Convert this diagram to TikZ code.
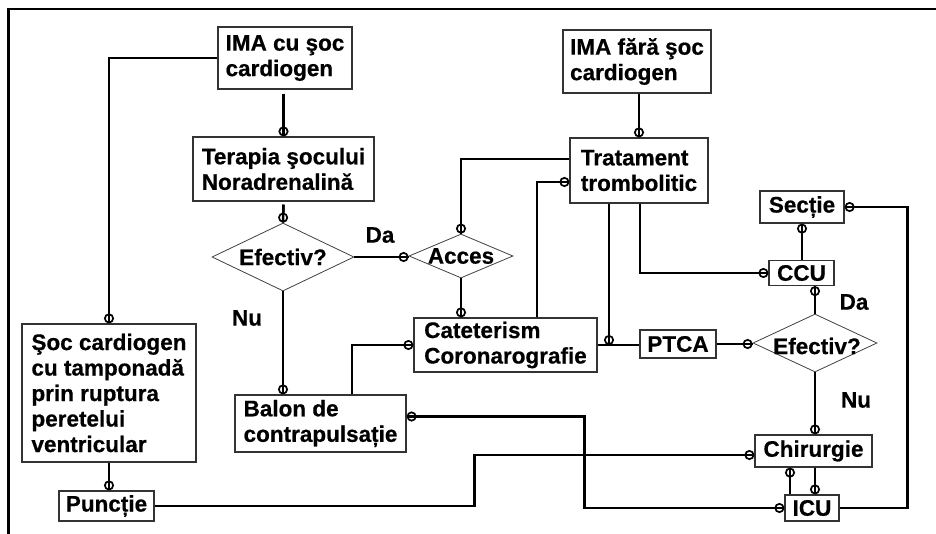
\documentclass[tikz,border=0pt]{standalone}
\usepackage{fontspec}
\setmainfont{Liberation Sans}[BoldFeatures={FakeBold=0.6}]
\usetikzlibrary{arrows.meta,shapes.geometric}

% a connector drawn in full, then again with its ring end(s) on top
\newcommand\wireup[3][conn]{\draw[#1] #3; \draw[#1,#2] #3;}

\begin{document}
\begin{tikzpicture}[x=1pt,y=-1pt,
  oring/.tip={Circle[open,length=10pt,width=10pt,line width=1.7pt]},
  txt/.style={font=\bfseries\fontsize{22.5}{25.5}\selectfont},
  box/.style={txt,draw=black!80,line width=1.2pt,rectangle,inner sep=2pt,align=left},
  dia/.style={draw=black!75,line width=0.8pt,diamond,inner sep=0pt},
  lbl/.style={txt,inner sep=0pt},
  conn/.style={line width=2.5pt,black},
  thinconn/.style={line width=1.2pt,black}]

\useasboundingbox (0,0) rectangle (936,533);
\clip (0,0) rectangle (936,533);

% outer frame, running off the right and bottom edges
\draw[line width=2.7pt] (8.7,560) -- (8.7,9) -- (960,9);

% boxes
\node[box,minimum width=134pt,minimum height=62pt] (ima1) at (285,58) {IMA cu şoc\\cardiogen};
\node[box,minimum width=181pt,minimum height=64pt] (terapia) at (283.5,169) {Terapia şocului\\Noradrenalină};
\node[box,minimum width=148pt,minimum height=63pt] (ima2) at (637,61.5) {IMA fără şoc\\cardiogen};
\node[box,minimum width=138pt,minimum height=65pt] (trat) at (639,170.5) {Tratament\\trombolitic};
\node[box,minimum width=84pt,minimum height=32pt] (sectie) at (802,207) {Secție};
\node[box,minimum width=65pt,minimum height=25pt] (ccu) at (801.5,273) {CCU};
\node[box,minimum width=183pt,minimum height=54pt] (cat) at (505.5,345) {Cateterism\\Coronarografie};
\node[box,minimum width=76pt,minimum height=28pt] (ptca) at (678,344) {PTCA};
\node[box,minimum width=174pt,minimum height=138pt] (soc) at (109,393) {Şoc cardiogen\\cu tamponadă\\prin ruptura\\peretelui\\ventricular};
\node[box,minimum width=171pt,minimum height=57pt] (balon) at (320.5,423.5) {Balon de\\contrapulsație};
\node[box,minimum width=117pt,minimum height=32pt] (chir) at (813.5,451) {Chirurgie};
\node[box,minimum width=54pt,minimum height=26pt] (icu) at (812,508) {ICU};
\node[box,minimum width=95pt,minimum height=30pt] (punctie) at (106.5,506) {Puncție};

% decisions
\node[dia,minimum width=142pt,minimum height=68pt] (d1) at (283,257) {};
\node[lbl] at (d1) {Efectiv?};
\node[dia,minimum width=104pt,minimum height=44pt] (acces) at (461,256) {};
\node[lbl] at (acces) {Acces};
\node[dia,minimum width=124pt,minimum height=58pt] (d2) at (815,343) {};
\node[lbl] at ([xshift=2pt,yshift=-3pt]d2) {Efectiv?};

% branch labels
\node[lbl] (da1) at (380,235) {Da};
\node[lbl] (nu1) at (247,318) {Nu};
\node[lbl] (da2) at (854,302) {Da};
\node[lbl] (nu2) at (856,400) {Nu};

% helper points on box edges
\coordinate (t1) at ([xshift=-30pt]trat.south);
\coordinate (t2) at ([xshift=1pt]trat.south);
\coordinate (c1) at ([xshift=-23.5pt]chir.south);
\coordinate (c2) at ([xshift=1.5pt]chir.south);

% connectors
\wireup[thinconn]{-{oring}}{(ima1.west) -| (soc.north)}
\wireup[conn,shorten <=4pt]{-{oring}}{(terapia.north |- ima1.south) -- (terapia.north)}
\wireup[conn,shorten <=3pt]{-{oring}}{(terapia.south) -- (d1.north)}
\wireup{-{oring}}{(d1.east) -- (d1.east -| acces.west)}
\wireup{-{oring}}{(d1.south) -- (d1.south |- balon.north)}
\wireup{-{oring}}{(ima2.south -| trat.north) -- (trat.north)}
\wireup{-{oring}}{([yshift=11.5pt]trat.west) -| (acces.north)}
\wireup{-{oring}}{(acces.south) -- (acces.south |- cat.north)}
\wireup{-{oring}}{([xshift=31.5pt]cat.north) |- ([yshift=-11.5pt]trat.west)}
\wireup{-{oring}}{([xshift=31.5pt]balon.north) |- (cat.west)}
\wireup{-{oring}}{(t1) -- (t1 |- cat.east)}
\draw[conn] (cat.east) -- (cat.east -| ptca.west);
\wireup{-{oring}}{(t2) |- (ccu.west)}
\wireup{-{oring}}{(ptca.east) -- (ptca.east -| d2.west)}
\wireup{{oring}-}{(sectie.south) -- (sectie.south |- ccu.north)}
\wireup{{oring}-}{(d2.north |- ccu.south) -- (d2.north)}
\wireup{-{oring}}{(d2.south) -- (d2.south |- chir.north)}
\wireup{{oring}-}{(sectie.east) -- ++(63,0) |- (icu.east)}
\wireup{{oring}-{oring}}{([yshift=7pt]balon.east) -- ++(178,0) |- (icu.west)}
\wireup{-{oring}}{(punctie.east) -- ++(320,0) |- ([yshift=-4pt]chir.west)}
\wireup{-{oring}}{(soc.south) -- (soc.south |- punctie.north)}
\wireup{{oring}-}{(c1) -- (c1 |- icu.north)}
\wireup{-{oring}}{(c2) -- (c2 |- icu.north)}

\end{tikzpicture}
\end{document}
